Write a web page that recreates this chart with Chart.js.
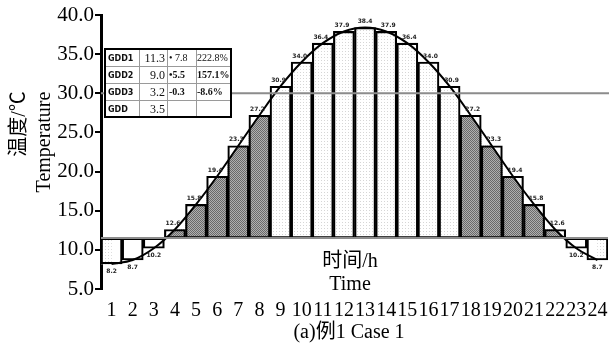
<!DOCTYPE html>
<html>
<head>
<meta charset="utf-8">
<script src="https://cdn.jsdelivr.net/npm/chart.js@4.4.1/dist/chart.umd.min.js"></script>
<style>
  html, body { margin: 0; padding: 0; background: #fff; }
  #wrap { width: 609px; height: 348px; }
</style>
</head>
<body>
<div id="wrap"><canvas id="chart"></canvas></div>
<script>
// hourly temperatures
const hours = ['1','2','3','4','5','6','7','8','9','10','11','12','13','14','15','16','17','18','19','20','21','22','23','24'];
const temps = [8.2, 8.7, 10.2, 12.6, 15.8, 19.4, 23.3, 27.2, 30.9, 34.0, 36.4, 37.9,
               38.4, 37.9, 36.4, 34.0, 30.9, 27.2, 23.3, 19.4, 15.8, 12.6, 10.2, 8.7];
const baseTemp = 11.5;
const upperTemp = 30;
const yTicks = [5, 10, 15, 20, 25, 30, 35, 40];

// little table in the top left corner
const gddNames = ['GDD1', 'GDD2', 'GDD3', 'GDD'];
const gddValues = ['11.3', '9.0', '3.2', '3.5'];
const gddDiffs = ['\u2022 7.8', '\u20225.5', '-0.3', ''];
const gddPcts = ['222.8%', '157.1%', '-8.6%', ''];

const serif = '"Liberation Serif", "Noto Sans CJK SC", serif';

function makePattern(bg, fg, size) {
    const p = document.createElement('canvas');
    p.width = size; p.height = size;
    const g = p.getContext('2d');
    g.fillStyle = bg;
    g.fillRect(0, 0, size, size);
    g.fillStyle = fg;
    g.fillRect(0, 0, 1, 1);
    if (size === 2) g.fillRect(1, 1, 1, 1);
    return g.createPattern(p, 'repeat');
}

const darkFill = makePattern('#b0b0b0', '#6a6a6a', 2);
const lightFill = makePattern('#ffffff', '#d6d6d6', 3);
const peakIdx = temps.indexOf(Math.max(...temps));

const extras = {
    id: 'extras',
    afterDatasetsDraw(chart) {
        const { ctx, chartArea, scales } = chart;
        const y = scales.y;
        ctx.save();
        ctx.strokeStyle = '#8c8c8c';
        ctx.lineWidth = 2;
        ctx.beginPath();
        ctx.moveTo(chartArea.left, y.getPixelForValue(baseTemp));
        ctx.lineTo(chartArea.right, y.getPixelForValue(baseTemp));
        ctx.moveTo(chartArea.left, y.getPixelForValue(upperTemp));
        ctx.lineTo(chart.width, y.getPixelForValue(upperTemp));
        ctx.stroke();
        ctx.restore();
    },
    afterDraw(chart) {
        const { ctx, scales } = chart;
        const x = scales.x, y = scales.y;
        ctx.save();

        // value labels on the bars
        ctx.fillStyle = '#222';
        ctx.font = 'bold 6px "DejaVu Sans"';
        ctx.textAlign = 'center';
        temps.forEach((v, i) => {
            const cx = x.getPixelForValue(i);
            if (v >= baseTemp) {
                const dx = i < peakIdx ? -2 : (i > peakIdx ? 2 : 0);
                ctx.textBaseline = 'bottom';
                ctx.fillText(v.toFixed(1), cx + dx, y.getPixelForValue(v) - 3);
            } else {
                ctx.textBaseline = 'top';
                ctx.fillText(v.toFixed(1), cx, y.getPixelForValue(v) + 4);
            }
        });

        // axis titles and caption
        ctx.fillStyle = '#000';
        ctx.textAlign = 'center';
        ctx.textBaseline = 'middle';
        ctx.font = '20px ' + serif;
        ctx.fillText('时间/h', 350, 262);
        ctx.fillText('Time', 350, 285);
        ctx.fillText('(a)\u4f8b1 Case 1', 349, 333);

        ctx.save();
        ctx.translate(20, 124);
        ctx.rotate(-Math.PI / 2);
        ctx.fillText('温度/℃', 0, 0);
        ctx.restore();
        ctx.save();
        ctx.translate(45, 142);
        ctx.rotate(-Math.PI / 2);
        ctx.fillText('Temperature', 0, 0);
        ctx.restore();

        // table
        const cols = [105, 139, 167, 196, 231];
        const top = 49, rowH = 17;
        ctx.fillStyle = '#fff';
        ctx.fillRect(cols[0], top, cols[4] - cols[0], rowH * 4);
        ctx.strokeStyle = '#9a9a9a';
        ctx.lineWidth = 1;
        ctx.beginPath();
        for (let r = 1; r < 4; r++) {
            ctx.moveTo(cols[0], top + r * rowH + 0.5);
            ctx.lineTo(cols[4], top + r * rowH + 0.5);
        }
        for (let c = 1; c < 4; c++) {
            ctx.moveTo(cols[c] + 0.5, top);
            ctx.lineTo(cols[c] + 0.5, top + rowH * 4);
        }
        ctx.stroke();
        ctx.strokeStyle = '#000';
        ctx.lineWidth = 2;
        ctx.strokeRect(cols[0], top, cols[4] - cols[0], rowH * 4);

        ctx.fillStyle = '#111';
        ctx.textBaseline = 'middle';
        gddNames.forEach((name, r) => {
            const cy = top + r * rowH + rowH / 2 + 1;
            ctx.textAlign = 'left';
            ctx.font = 'bold 8px "DejaVu Sans"';
            ctx.fillText(name, cols[0] + 3, cy);
            ctx.textAlign = 'right';
            ctx.font = '12px ' + serif;
            ctx.fillText(gddValues[r], cols[2] - 2, cy);
            ctx.textAlign = 'left';
            ctx.font = (r === 0 ? '' : 'bold ') + '10px ' + serif;
            ctx.fillText(gddDiffs[r], cols[2] + 2, cy);
            ctx.font = (r === 0 ? '' : 'bold ') + '10px ' + serif;
            ctx.fillText(gddPcts[r], cols[3] + 1, cy);
        });
        ctx.restore();
    }
};

const barFills = temps.map(v => (v > baseTemp && v < upperTemp) ? darkFill : lightFill);
const floating = temps.map(v => [baseTemp, v]);

new Chart(document.getElementById('chart'), {
    data: {
        labels: hours,
        datasets: [
            {
                type: 'line',
                data: temps,
                borderColor: '#000',
                borderWidth: 2,
                pointRadius: 0,
                cubicInterpolationMode: 'monotone',
                fill: false,
                order: 1
            },
            {
                type: 'bar',
                data: floating,
                backgroundColor: 'rgba(0,0,0,0)',
                borderColor: '#000',
                borderWidth: 1.5,
                borderSkipped: false,
                grouped: false,
                barPercentage: 1,
                categoryPercentage: 1,
                order: 2
            },
            {
                type: 'line',
                data: temps,
                borderWidth: 0,
                borderColor: 'rgba(0,0,0,0)',
                backgroundColor: '#fff',
                pointRadius: 0,
                cubicInterpolationMode: 'monotone',
                fill: 'end',
                order: 3
            },
            {
                type: 'bar',
                data: floating,
                backgroundColor: barFills,
                borderWidth: 0,
                grouped: false,
                barPercentage: 1,
                categoryPercentage: 1,
                order: 4
            }
        ]
    },
    options: {
        responsive: true,
        maintainAspectRatio: false,
        animation: false,
        layout: { padding: { top: 15, right: 1, bottom: 15, left: 0 } },
        plugins: { legend: { display: false }, tooltip: { enabled: false } },
        scales: {
            x: {
                offset: true,
                grid: { display: false, drawTicks: false },
                border: { display: false },
                afterFit: s => { s.paddingLeft = 0; s.paddingRight = 0; },
                ticks: {
                    autoSkip: false, maxRotation: 0, minRotation: 0, padding: 10,
                    color: '#000', font: { family: serif, size: 20 }
                }
            },
            y: {
                min: 5, max: 40,
                afterBuildTicks: s => { s.ticks = yTicks.map(v => ({ value: v })); },
                afterFit: s => { s.width = 101; },
                ticks: {
                    padding: 1, color: '#000',
                    font: { family: serif, size: 21 },
                    callback: v => Number(v).toFixed(1)
                },
                grid: { drawOnChartArea: false, tickLength: 6, color: '#000', lineWidth: 2 },
                border: { color: '#000', width: 3 }
            }
        }
    },
    plugins: [extras]
});
</script>
</body>
</html>
